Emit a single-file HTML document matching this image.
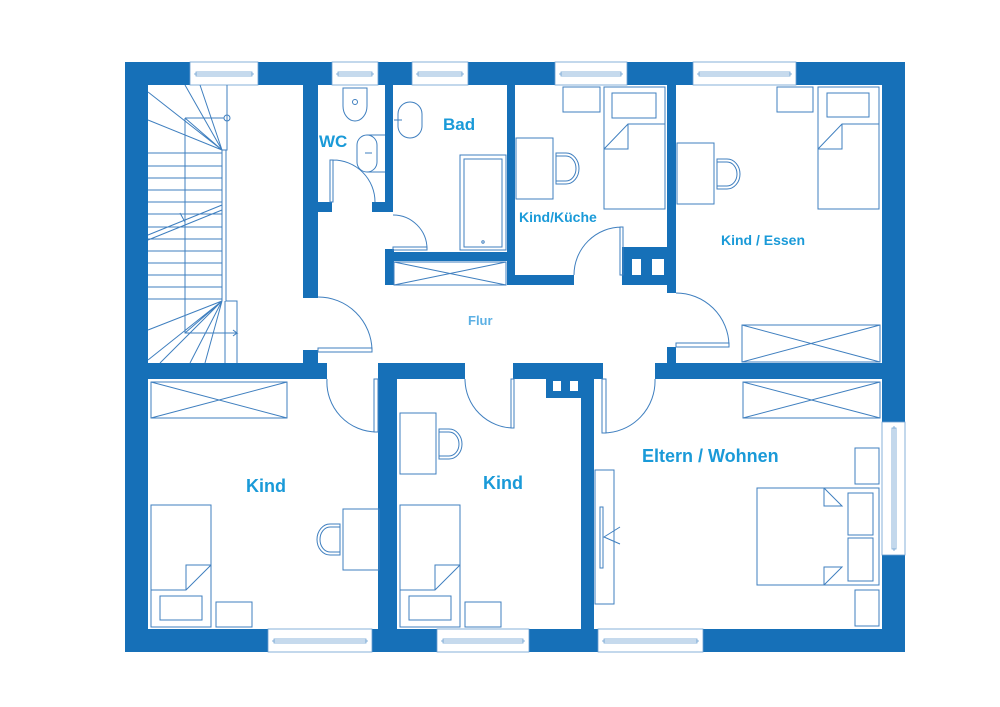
<!DOCTYPE html>
<html><head><meta charset="utf-8"><style>
html,body{margin:0;padding:0;background:#fff}
svg{display:block}
text{font-family:"Liberation Sans",sans-serif;font-weight:bold;fill:#1a9ad8}
</style></head><body>
<svg width="1000" height="707" viewBox="0 0 1000 707">
<g fill="#1670b8">
<rect x="125" y="62" width="780" height="23"/>
<rect x="125" y="62" width="23" height="590"/>
<rect x="125" y="629" width="780" height="23"/>
<rect x="882" y="62" width="23" height="590"/>
<rect x="303" y="85" width="15" height="213"/>
<rect x="303" y="350" width="15" height="15"/>
<rect x="125" y="363" width="202" height="16"/>
<rect x="385" y="85" width="8" height="127"/>
<rect x="318" y="202" width="14" height="10"/>
<rect x="372" y="202" width="21" height="10"/>
<rect x="385" y="249" width="9" height="36"/>
<rect x="385" y="252" width="128" height="9"/>
<rect x="507" y="85" width="8" height="200"/>
<rect x="507" y="275" width="67" height="10"/>
<rect x="622" y="247" width="54" height="38"/>
<rect x="667" y="85" width="9" height="208"/>
<rect x="667" y="347" width="9" height="18"/>
<rect x="378" y="363" width="87" height="16"/>
<rect x="513" y="363" width="90" height="16"/>
<rect x="546" y="363" width="48" height="35"/>
<rect x="655" y="363" width="250" height="16"/>
<rect x="378" y="363" width="19" height="289"/>
<rect x="581" y="363" width="13" height="289"/>
</g>
<g fill="#fff">
<rect x="632" y="259" width="9" height="16"/><rect x="652" y="259" width="12" height="16"/>
<rect x="553" y="381" width="8" height="10"/><rect x="570" y="381" width="8" height="10"/>
</g>
<g fill="#fff" stroke="#6a9fd0" stroke-width="0.8">
<rect x="190" y="62" width="68" height="23"/><rect x="332" y="62" width="46" height="23"/>
<rect x="412" y="62" width="56" height="23"/><rect x="555" y="62" width="72" height="23"/>
<rect x="693" y="62" width="103" height="23"/>
<rect x="268" y="629" width="104" height="23"/><rect x="437" y="629" width="92" height="23"/>
<rect x="598" y="629" width="105" height="23"/>
<rect x="882" y="422" width="23" height="133"/>
</g>
<g stroke="#6a9fd0" stroke-width="0.8" fill="none">
<path d="M194 74h60M336 74h38M416 74h48M559 74h64M697 74h95M272 641h96M441 641h84M602 641h97M894 426v125"/>
<path d="M196 72h56v4h-56zM338 72h34v4h-34zM418 72h44v4h-44zM561 72h60v4h-60zM699 72h91v4h-91zM274 639h92v4h-92zM443 639h80v4h-80zM604 639h93v4h-93zM892 428h4v121h-4z"/>
</g>
<g stroke="#3f7fbf" stroke-width="1" fill="none">
<path d="M148 153h74M148 166h74M148 178h74M148 190h74M148 202h74M148 214h74M148 227h74M148 239h74M148 251h74M148 263h74M148 275h74M148 287h74M148 299h74"/>
<path d="M185 118v215h52M185 118h39M227 85v65h-5M222 150v151M226 150v151h11v62M225 301v62"/>
<circle cx="227" cy="118" r="3"/>
<path d="M222 150L148 120M222 150L148 92M222 150L185 85M222 150L200 85M222 150L185 118"/>
<path d="M222 301L148 330M222 301L148 360M222 301L185 333M222 301L190 363M222 301L205 363M222 301L160 363"/>
<path d="M148 235L222 205M148 240L222 210M180 213l5 9M227 333h10l-4-3M237 333l-4 3"/>
<path d="M343 88h24v18a12 15 0 0 1-24 0z"/><circle cx="355" cy="102" r="2.5"/>
<rect x="357" y="135" width="20" height="37" rx="10"/><path d="M372 153h-7"/>
<path d="M367 135h18M367 172h18"/>
<rect x="398" y="102" width="24" height="36" rx="12"/><path d="M394 120h8"/>
<rect x="460" y="155" width="46" height="95"/><rect x="464" y="159" width="38" height="88"/>
<circle cx="483" cy="242" r="1.2"/>
<rect x="394" y="262" width="112" height="23"/><path d="M394 262L506 285M394 285L506 262"/>
<rect x="151" y="382" width="136" height="36"/><path d="M151 382L287 418M151 418L287 382"/>
<rect x="742" y="325" width="138" height="37"/><path d="M742 325L880 362M742 362L880 325"/>
<rect x="743" y="382" width="137" height="36"/><path d="M743 382L880 418M743 418L880 382"/>
<rect x="604" y="87" width="61" height="122"/><rect x="612" y="93" width="44" height="25"/>
<path d="M604 149L628 124h37M628 124v25h-24"/>
<rect x="563" y="87" width="37" height="25"/>
<rect x="516" y="138" width="37" height="61"/>
<path d="M556 153h10a13 15.5 0 0 1 0 31h-10zM556 156h10a10 12.5 0 0 1 0 25h-10"/>
<rect x="818" y="87" width="61" height="122"/><rect x="827" y="93" width="42" height="24"/>
<path d="M818 149L842 124h37M842 124v25h-24"/>
<rect x="777" y="87" width="36" height="25"/>
<rect x="677" y="143" width="37" height="61"/>
<path d="M717 159h10a13 15 0 0 1 0 30h-10zM717 162h10a10 12 0 0 1 0 24h-10"/>
<rect x="151" y="505" width="60" height="122"/><rect x="160" y="596" width="42" height="24"/>
<path d="M211 565L186 590h-35M186 590v-25h25"/>
<rect x="216" y="602" width="36" height="25"/>
<rect x="343" y="509" width="36" height="61"/>
<path d="M340 524h-10a13 15.5 0 0 0 0 31h10zM340 527h-10a10 12.5 0 0 0 0 25h10"/>
<rect x="400" y="413" width="36" height="61"/>
<path d="M439 429h10a13 15 0 0 1 0 30h-10zM439 432h10a10 12 0 0 1 0 24h-10"/>
<rect x="400" y="505" width="60" height="122"/><rect x="409" y="596" width="42" height="24"/>
<path d="M460 565L435 590h-35M435 590v-25h25"/>
<rect x="465" y="602" width="36" height="25"/>
<rect x="757" y="488" width="122" height="97"/>
<rect x="848" y="493" width="25" height="42"/><rect x="848" y="538" width="25" height="43"/>
<path d="M824 488v18h18L824 488M824 585v-18h18L824 585"/>
<rect x="855" y="448" width="24" height="36"/><rect x="855" y="590" width="24" height="36"/>
<rect x="595" y="470" width="19" height="134"/><rect x="600" y="507" width="3" height="61"/>
<path d="M620 527L604 537L620 544"/>
<path d="M333 160v42h-3v-42zM333 160A42 42 0 0 1 375 202"/>
<path d="M393 247h34v3h-34zM393 215A34 34 0 0 1 427 249"/>
<path d="M318 348h54v4h-54zM318 297A54 54 0 0 1 372 350"/>
<path d="M620 227h3v48h-3zM574 275A48 48 0 0 1 622 227"/>
<path d="M676 343h53v4h-53zM676 293A53 53 0 0 1 729 345"/>
<path d="M374 379h4v53h-4zM327 379A50 50 0 0 0 377 432"/>
<path d="M511 379h3v49h-3zM465 379A49 49 0 0 0 514 428"/>
<path d="M602 379h4v54h-4zM655 379A52 52 0 0 1 603 433"/>
</g>
<text x="319" y="147" font-size="17">WC</text>
<text x="443" y="130" font-size="17">Bad</text>
<text x="519" y="222" font-size="14">Kind/Küche</text>
<text x="721" y="245" font-size="14">Kind / Essen</text>
<text x="468" y="325" font-size="13" style="fill:#5cb0e4">Flur</text>
<text x="246" y="492" font-size="18">Kind</text>
<text x="483" y="489" font-size="18">Kind</text>
<text x="642" y="462" font-size="18">Eltern / Wohnen</text>
</svg>
</body></html>
